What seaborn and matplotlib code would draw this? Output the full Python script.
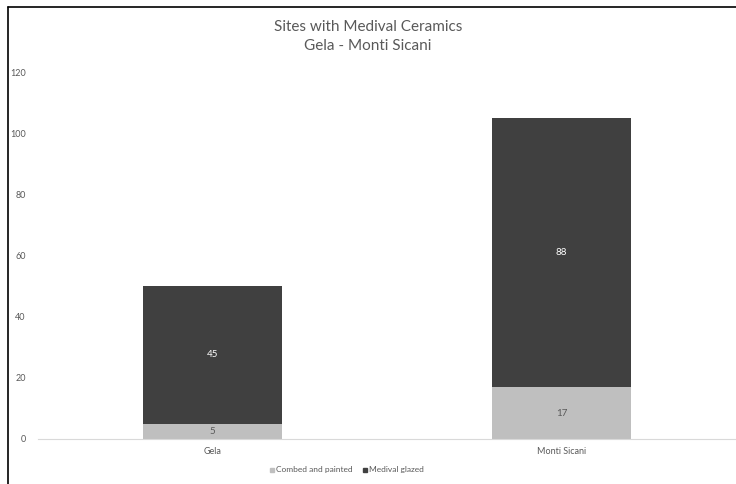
import matplotlib
matplotlib.use("Agg")
import matplotlib.pyplot as plt
from matplotlib.lines import Line2D
import pandas as pd
import seaborn as sns

# ── Data ─────────────────────────────────────────────────────
regions = ["Gela", "Monti Sicani"]
combed_painted = [5, 17]
medival_glazed = [45, 88]
series_names = ["Combed and painted", "Medival glazed"]

light = "#BFBFBF"
dark = "#404040"
text_col = "#595959"

sns.set_theme(style="white")
plt.rcParams['font.family'] = ['Lato', 'DejaVu Sans']

df = pd.DataFrame({"region": regions,
                   "combed": combed_painted,
                   "glazed": medival_glazed})
df["total"] = df["combed"] + df["glazed"]

fig = plt.figure(figsize=(7.36, 4.84), dpi=100)
ax = fig.add_axes([0.052, 0.093, 0.948, 0.758])

# stacked bars: totals in dark, bottom part in light drawn on top
sns.barplot(data=df, x="region", y="total", color=dark, width=0.4,
            saturation=1, linewidth=0, edgecolor="none", ax=ax)
sns.barplot(data=df, x="region", y="combed", color=light, width=0.4,
            saturation=1, linewidth=0, edgecolor="none", ax=ax)

for i, row in df.iterrows():
    ax.text(i, row["combed"] / 2, str(row["combed"]), ha="center", va="center",
            fontsize=7, color=text_col)
    ax.text(i, row["combed"] + row["glazed"] / 2, str(row["glazed"]),
            ha="center", va="center", fontsize=7, color="white")

ax.set_xlim(-0.5, 1.5)
ax.set_ylim(0, 120)
ax.set_yticks(range(0, 121, 20))
ax.set_xlabel("")
ax.set_ylabel("")
ax.tick_params(axis="both", labelsize=6.5, colors=text_col, length=0)
ax.tick_params(axis="y", pad=9)
ax.tick_params(axis="x", pad=6)
for s in ["top", "right", "left"]:
    ax.spines[s].set_visible(False)
ax.spines["bottom"].set_color("#D9D9D9")
ax.spines["bottom"].set_linewidth(0.8)

fig.text(0.5, 0.944, "Sites with Medival Ceramics", ha="center", va="center",
         fontsize=11, color=text_col)
fig.text(0.5, 0.905, "Gela - Monti Sicani", ha="center", va="center",
         fontsize=11, color=text_col)

handles = [Line2D([], [], marker="s", linestyle="", color=light, markersize=3.5),
           Line2D([], [], marker="s", linestyle="", color=dark, markersize=3.5)]
fig.legend(handles, series_names, loc="center", bbox_to_anchor=(0.47, 0.029),
           ncol=2, frameon=False, fontsize=6, labelcolor=text_col,
           handletextpad=0.0, columnspacing=1.0, handlelength=1)

# outer frame lines (top and left)
fig.add_artist(Line2D([8 / 736, 1], [1 - 7 / 484, 1 - 7 / 484],
                      color="black", linewidth=1.2))
fig.add_artist(Line2D([8 / 736, 8 / 736], [0, 1 - 7 / 484],
                      color="black", linewidth=1.2))

plt.savefig("out.png", dpi=100)
